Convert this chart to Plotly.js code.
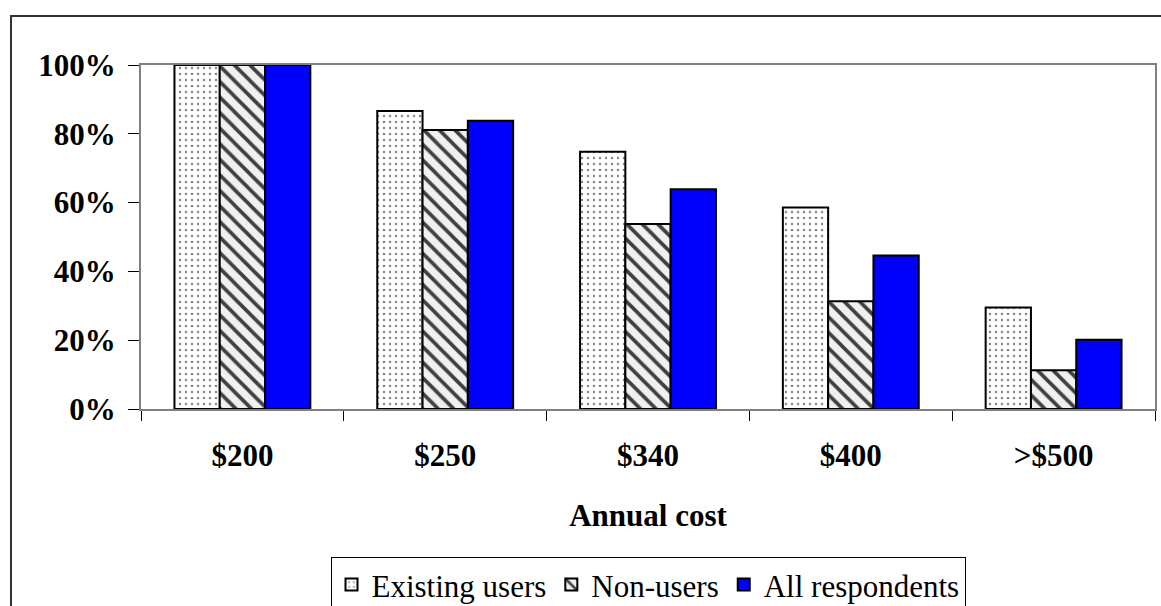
<!DOCTYPE html>
<html>
<head>
<meta charset="utf-8">
<script src="https://cdn.plot.ly/plotly-3.0.1.min.js"></script>
<style>
html,body{margin:0;padding:0;background:#fff;}
#chart{width:1161px;height:606px;}
</style>
</head>
<body>
<div id="chart"></div>
<script>
var categories = ['$200', '$250', '$340', '$400', '>$500'];
var existingUsers = [100, 86.6, 74.8, 58.6, 29.5];
var nonUsers = [100, 81.1, 53.8, 31.3, 11.3];
var allRespondents = [100, 83.8, 63.9, 44.6, 20.1];
var seriesNames = ['Existing users', 'Non-users', 'All respondents'];
var yTickVals = [0, 20, 40, 60, 80, 100];
var yTickText = ['0%', '20%', '40%', '60%', '80%', '100%'];

var serif = '"Liberation Serif", "Times New Roman", serif';

var traces = [
  {
    type: 'bar', name: seriesNames[0], x: categories, y: existingUsers,
    marker: {
      color: '#ffffff',
      line: {color: '#000000', width: 2},
      pattern: {shape: '.', fgcolor: '#888888', bgcolor: '#ffffff', size: 6, solidity: 0.14}
    }
  },
  {
    type: 'bar', name: seriesNames[1], x: categories, y: nonUsers,
    marker: {
      color: '#f0f0f0',
      line: {color: '#000000', width: 2},
      pattern: {shape: '\\', fgcolor: '#404040', bgcolor: '#f0f0f0', size: 11, solidity: 0.33}
    }
  },
  {
    type: 'bar', name: seriesNames[2], x: categories, y: allRespondents,
    marker: {
      color: '#0000ff',
      line: {color: '#000000', width: 2}
    }
  }
];

var layout = {
  width: 1161, height: 606,
  margin: {l: 141, r: 6, t: 65, b: 197, autoexpand: false},
  paper_bgcolor: '#ffffff', plot_bgcolor: '#ffffff',
  barmode: 'group', bargap: 0.33, bargroupgap: 0,
  font: {family: serif, color: '#000000'},
  showlegend: true,
  legend: {
    orientation: 'h', x: 0.5, xanchor: 'center',
    yref: 'container', y: 0.081, yanchor: 'top',
    bordercolor: '#000000', borderwidth: 1, bgcolor: '#ffffff',
    font: {family: serif, size: 31, color: '#000000'},
    itemsizing: 'constant', tracegroupgap: 0, itemwidth: 30
  },
  xaxis: {
    type: 'category', automargin: false,
    tickson: 'boundaries', ticks: 'outside', ticklen: 10, tickcolor: '#000000', tickwidth: 1,
    showline: true, linecolor: '#808080', linewidth: 2, mirror: true,
    showgrid: false, zeroline: false,
    tickfont: {family: serif, size: 31, color: '#000000', weight: 'bold'},
    ticklabelstandoff: 18,
    title: {text: 'Annual cost', font: {family: serif, size: 31, color: '#000000', weight: 'bold'}, standoff: 32},
    fixedrange: true
  },
  yaxis: {
    range: [0, 100], tickvals: yTickVals, ticktext: yTickText, automargin: false,
    ticks: 'outside', ticklen: 11, tickcolor: '#000000', tickwidth: 1,
    showline: true, linecolor: '#808080', linewidth: 2, mirror: true,
    showgrid: false, zeroline: false,
    tickfont: {family: serif, size: 31, color: '#000000', weight: 'bold'},
    ticklabelstandoff: 6,
    fixedrange: true
  },
  shapes: [
    {type: 'rect', xref: 'paper', yref: 'paper', x0: -0.1282, x1: 1.2, y0: -2, y1: 1.1424,
     line: {color: '#333333', width: 2}, fillcolor: 'rgba(0,0,0,0)', layer: 'below'}
  ]
};

Plotly.newPlot('chart', traces, layout, {staticPlot: true, displayModeBar: false});
</script>
</body>
</html>
